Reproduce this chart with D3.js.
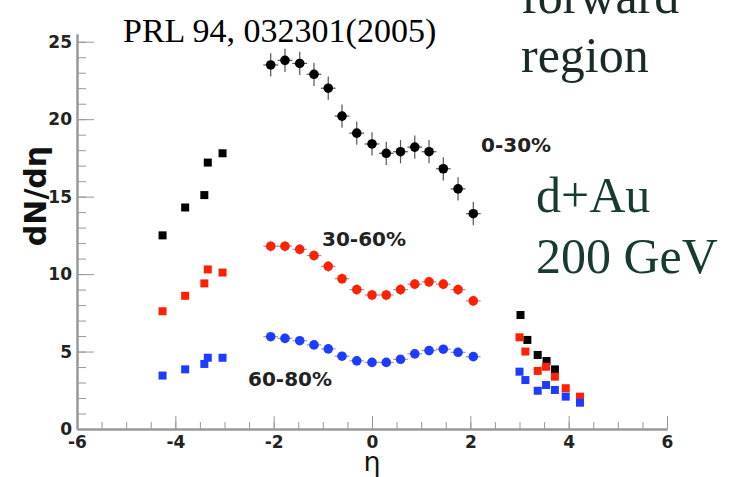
<!DOCTYPE html>
<html>
<head>
<meta charset="utf-8">
<script src="https://cdn.jsdelivr.net/npm/d3@7"></script>
<style>
  body { margin: 0; background: #fff; }
  svg { display: block; }
  .axis path, .axis line { stroke: #999; }
  .axis text { font-family: "DejaVu Sans", sans-serif; font-weight: bold; font-size: 17px; fill: #222; }
</style>
</head>
<body>
<script>
// eta positions
var etaMid = [-2.06, -1.77, -1.47, -1.18, -0.89, -0.61, -0.31, 0, 0.29, 0.58, 0.87, 1.16, 1.45, 1.75, 2.06];
var etaBack = [-4.26, -3.8, -3.41, -3.34, -3.04];
var etaFwdBlack = [3.02, 3.16, 3.37, 3.55, 3.72];
var etaFwd = [3.0, 3.12, 3.37, 3.54, 3.72, 3.94, 4.23];

// dN/deta, 0-30%
var c0Mid = [23.5, 23.8, 23.6, 22.9, 22.0, 20.2, 19.1, 18.4, 17.8, 17.9, 18.2, 17.9, 16.8, 15.5, 13.9];
var c0Back = [12.5, 14.3, 15.1, 17.2, 17.8];
var c0Fwd = [7.36, 5.75, 4.78, 4.39, 3.85];
// 30-60%
var c1Mid = [11.8, 11.8, 11.6, 11.2, 10.5, 9.7, 9.0, 8.65, 8.65, 9.0, 9.35, 9.5, 9.35, 9.0, 8.27];
var c1Back = [7.6, 8.6, 9.4, 10.3, 10.1];
var c1Fwd = [5.92, 5.0, 3.75, 4.02, 3.38, 2.63, 2.09];
// 60-80%
var c2Mid = [5.96, 5.85, 5.7, 5.43, 5.17, 4.7, 4.4, 4.3, 4.3, 4.5, 4.85, 5.06, 5.15, 4.95, 4.67];
var c2Back = [3.45, 3.85, 4.2, 4.6, 4.6];
var c2Fwd = [3.7, 3.16, 2.47, 2.84, 2.52, 2.09, 1.7];

var errMid = [0.75, 0.35, 0.2]; // vertical error per class
var binHalf = 0.15;

var xTicks = [-6, -4, -2, 0, 2, 4, 6];
var yTicks = [0, 5, 10, 15, 20, 25];

var width = 734, height = 477;
var svg = d3.select("body").append("svg")
    .attr("width", width).attr("height", height);

var x = d3.scaleLinear().domain([-6, 6]).range([77, 667]);
var y = d3.scaleLinear().domain([0, 25.5]).range([429, 34]);

// minor ticks
svg.append("g").attr("class", "axis")
    .attr("transform", "translate(0,429)")
    .call(d3.axisBottom(x).tickValues(d3.range(-6, 6.01, 0.5)).tickFormat("").tickSizeInner(-7).tickSizeOuter(0));
svg.append("g").attr("class", "axis")
    .attr("transform", "translate(77,0)")
    .call(d3.axisLeft(y).tickValues(d3.range(0, 25.01, 1)).tickFormat("").tickSizeInner(-9).tickSizeOuter(0));

// major ticks
svg.append("g").attr("class", "axis")
    .attr("transform", "translate(0,429)")
    .call(d3.axisBottom(x).tickValues(xTicks).tickFormat(d => String(d)).tickSizeInner(-13).tickSizeOuter(0).tickPadding(7));
svg.append("g").attr("class", "axis")
    .attr("transform", "translate(77,0)")
    .call(d3.axisLeft(y).tickValues(yTicks).tickFormat(d => String(d)).tickSizeInner(-17).tickSizeOuter(0).tickPadding(5));
svg.selectAll(".axis path.domain").attr("stroke-width", 2);

// axis titles
svg.append("text")
    .attr("transform", "translate(46,196) rotate(-90)")
    .attr("text-anchor", "middle")
    .style("font-family", "DejaVu Sans, sans-serif")
    .style("font-weight", "bold").style("font-size", "30px").attr("fill", "#111")
    .text("dN/dη");
svg.append("text")
    .attr("x", 372).attr("y", 471)
    .attr("text-anchor", "middle")
    .style("font-family", "DejaVu Sans, sans-serif")
    .style("font-size", "27px").attr("fill", "#111")
    .text("η");

var classes = [
  {color: "#000", err: errMid[0], mid: c0Mid, back: c0Back, fwd: c0Fwd, fwdEta: etaFwdBlack, ebar: "#555"},
  {color: "#ff2000", err: errMid[1], mid: c1Mid, back: c1Back, fwd: c1Fwd, fwdEta: etaFwd, ebar: "#999"},
  {color: "#1e3cff", err: errMid[2], mid: c2Mid, back: c2Back, fwd: c2Fwd, fwdEta: etaFwd, ebar: "#999"}
];

var sq = 8;
classes.forEach(function(c) {
  var g = svg.append("g");
  var mid = etaMid.map((e, i) => ({eta: e, v: c.mid[i]}));
  // error bars
  g.selectAll(".eh").data(mid).enter().append("line")
    .attr("x1", d => x(d.eta - binHalf)).attr("x2", d => x(d.eta + binHalf))
    .attr("y1", d => y(d.v)).attr("y2", d => y(d.v))
    .attr("stroke", c.ebar).attr("stroke-width", 1.2);
  g.selectAll(".ev").data(mid).enter().append("line")
    .attr("x1", d => x(d.eta)).attr("x2", d => x(d.eta))
    .attr("y1", d => y(d.v - c.err)).attr("y2", d => y(d.v + c.err))
    .attr("stroke", c.ebar).attr("stroke-width", 1.2);
  g.selectAll(".pc").data(mid).enter().append("circle")
    .attr("cx", d => x(d.eta)).attr("cy", d => y(d.v)).attr("r", 4.8)
    .attr("fill", c.color);
  var sqs = etaBack.map((e, i) => ({eta: e, v: c.back[i]}))
    .concat(c.fwdEta.map((e, i) => ({eta: e, v: c.fwd[i]})));
  g.selectAll(".ps").data(sqs).enter().append("rect")
    .attr("x", d => x(d.eta) - sq / 2).attr("y", d => y(d.v) - sq / 2)
    .attr("width", sq).attr("height", sq)
    .attr("fill", c.color);
});

// class labels
var lab = [["0-30%", 481, 152], ["30-60%", 322, 246], ["60-80%", 248, 386]];
svg.selectAll(".lab").data(lab).enter().append("text")
  .attr("x", d => d[1]).attr("y", d => d[2])
  .style("font-family", "DejaVu Sans, sans-serif")
  .style("font-weight", "bold").style("font-size", "20px").attr("fill", "#222")
  .text(d => d[0]);

// annotations
var serif = "Liberation Serif, Times New Roman, serif";
svg.append("text").attr("x", 123).attr("y", 42)
  .style("font-family", serif).style("font-size", "34px").attr("fill", "#000")
  .text("PRL 94, 032301(2005)");
svg.append("text").attr("x", 521).attr("y", 13)
  .style("font-family", serif).style("font-size", "50px").attr("fill", "#1a2a28")
  .text("forward");
svg.append("text").attr("x", 521).attr("y", 72)
  .style("font-family", serif).style("font-size", "50px").attr("fill", "#1a2a28")
  .text("region");
svg.append("text").attr("x", 536).attr("y", 212)
  .style("font-family", serif).style("font-size", "50px").attr("fill", "#173a33")
  .text("d+Au");
svg.append("text").attr("x", 536).attr("y", 273)
  .style("font-family", serif).style("font-size", "50px").attr("fill", "#173a33")
  .text("200 GeV");
</script>
</body>
</html>
